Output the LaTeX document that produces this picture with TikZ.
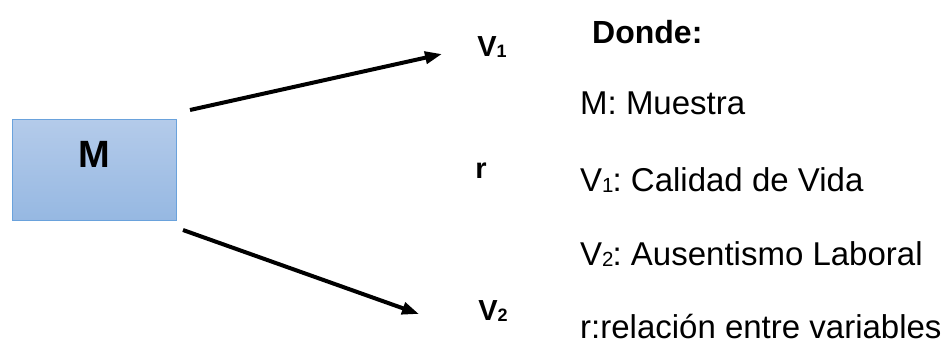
\documentclass[tikz,border=0pt]{standalone}
\usepackage{fontspec}
\setmainfont{Liberation Sans}
\usetikzlibrary{arrows.meta}
\definecolor{boxtop}{HTML}{B4CBEA}
\definecolor{boxbot}{HTML}{96B8E2}
\definecolor{boxline}{HTML}{6AA2DC}
\newcommand\subtxt[1]{\raisebox{-0.06em}{\scalebox{0.62}{#1}}}
\tikzset{
  mbox/.style={draw=boxline, line width=1pt, top color=boxtop, bottom color=boxbot, minimum width=164pt, minimum height=101pt, inner sep=0pt},
  varlab/.style={font=\bfseries\fontsize{29}{32}\selectfont, inner sep=0pt},
  legend/.style={font=\fontsize{33}{40}\selectfont, anchor=base west, inner sep=0pt},
  conn/.style={line width=4pt, -{Triangle[length=17pt,width=12pt]}}
}
\begin{document}
\begin{tikzpicture}[x=1pt,y=-1pt]
\useasboundingbox (0,0) rectangle (943,346);
\node[mbox] (M) at (94,169.5) {};
\node[inner sep=0pt, font=\bfseries\fontsize{38}{40}\selectfont] (Mlab) at (94,154) {M};
\node[varlab] (V1) at (492,47) {V\subtxt{1}};
\node[varlab] (r) at (481,171) {r};
\node[varlab] (V2) at (493,311) {V\subtxt{2}};
\coordinate (a1s) at (190,110);
\coordinate (a1e) at (442,54);
\coordinate (a2s) at (183,230);
\coordinate (a2e) at (419,314);
\draw[conn] (a1s) -- (a1e);
\draw[conn] (a2s) -- (a2e);
\node[legend, font=\bfseries\fontsize{32}{40}\selectfont] (d0) at (592,43) {Donde:};
\node[legend] (d1) at (580,114) {M: Muestra};
\node[legend] (d2) at (580,191) {V\subtxt{1}\kern-1pt:\kern-3pt{} Calidad de Vida};
\node[legend] (d3) at (580,265) {V\subtxt{2}\kern-1pt:\kern-3pt{} Ausentismo Laboral};
\node[legend] (d4) at (580,338) {r:relación entre variables};
\end{tikzpicture}
\end{document}
